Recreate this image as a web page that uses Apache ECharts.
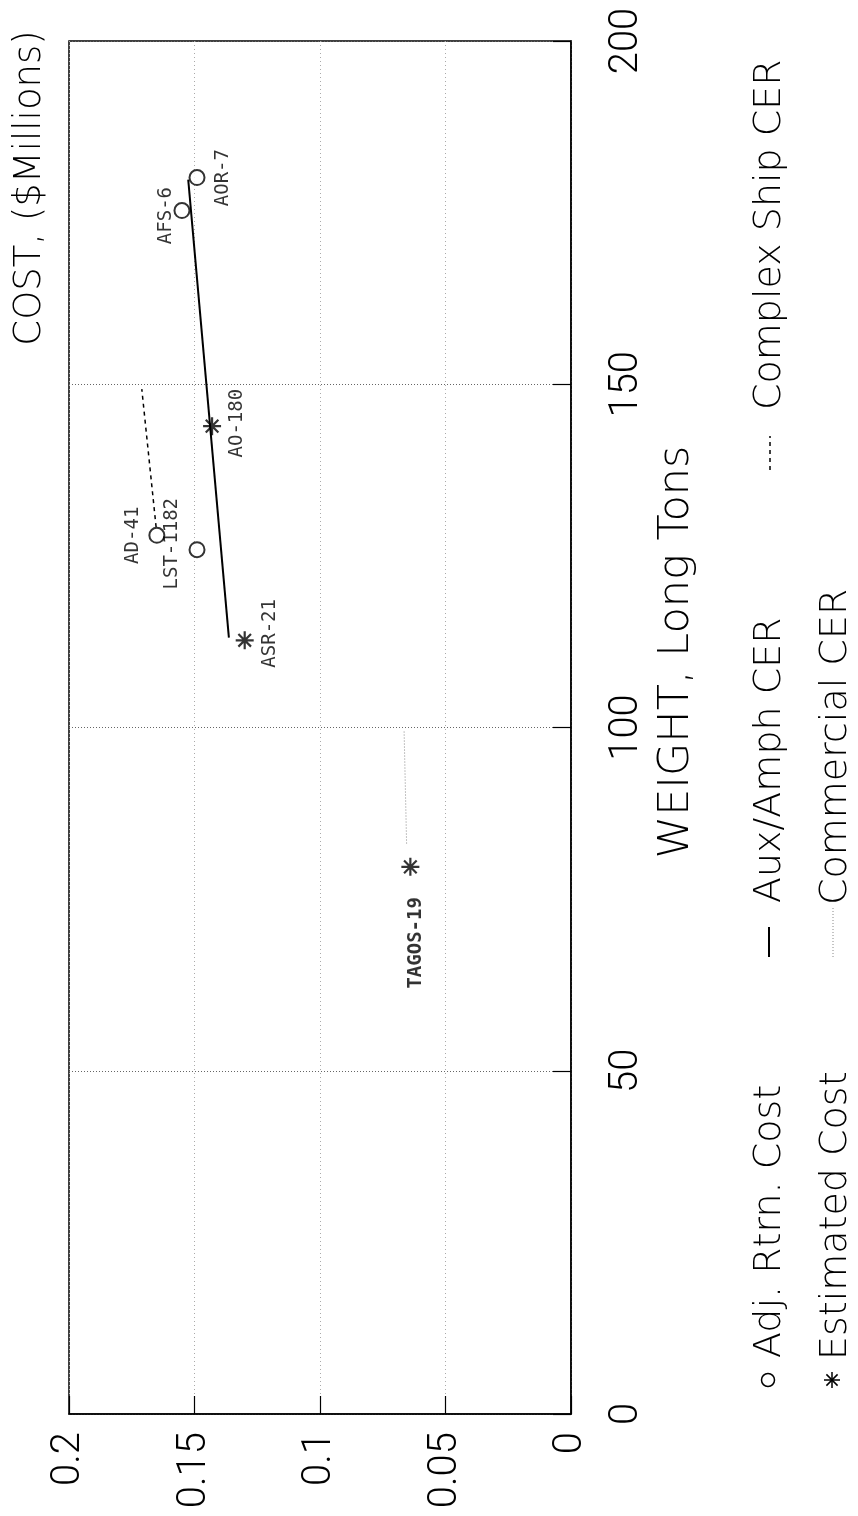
<!DOCTYPE html>
<html>
<head>
<meta charset="utf-8">
<script src="https://cdn.jsdelivr.net/npm/echarts@6/dist/echarts.min.js"></script>
<style>
  html, body { margin: 0; padding: 0; background: #fff; }
  #chart { width: 858px; height: 1516px; }
</style>
</head>
<body>
<div id="chart"></div>
<script>
// Ship cost vs. weight, drawn turned a quarter-turn: weight runs up the page,
// cost runs right-to-left along the bottom.

// Axis ticks
const costTicks = [0, 0.05, 0.1, 0.15, 0.2];
const weightTicks = [0, 50, 100, 150, 200];

// Adjusted return cost (open circles)
const adjNames = ['AOR-7', 'AFS-6', 'AD-41', 'LST-1182'];
const adjWeight = [180.1, 175.3, 128.0, 125.9];
const adjCost = [0.149, 0.155, 0.165, 0.149];

// Estimated cost (asterisks)
const estNames = ['AO-180', 'ASR-21', 'TAGOS-19'];
const estWeight = [143.9, 112.7, 79.7];
const estCost = [0.143, 0.130, 0.064];

// Cost estimating relationships (end points of each fitted line)
const auxAmphWeight = [113.1, 179.8];
const auxAmphCost = [0.1363, 0.1525];
const commercialWeight = [83.1, 99.6];
const commercialCost = [0.0655, 0.0665];
const complexWeight = [129.2, 149.3];
const complexCost = [0.1653, 0.1710];

// Label placement around each point, as screen shifts [right, down] in pixels
const labelShift = {
  'AOR-7': [26, 0],
  'AFS-6': [-16, 5],
  'AD-41': [-24, 0],
  'LST-1182': [-25, -6],
  'AO-180': [25, -3],
  'ASR-21': [25, -7],
  'TAGOS-19': [6, 76]
};

const ROT = Math.PI / 2;
const TICK_FONT = 'Roboto';
const TEXT_FONT = 'DejaVu Sans';

function pairs(xs, ys) { return xs.map((x, i) => [x, ys[i]]); }

// label offsets live in the label's own (turned) frame
function turnedOffset(s) { return [-s[1], s[0]]; }

function pointData(names, costs, weights) {
  return names.map((n, i) => ({
    name: n,
    value: [costs[i], weights[i]],
    label: {
      offset: turnedOffset(labelShift[n]),
      fontWeight: n === 'TAGOS-19' ? 'bold' : 'normal'
    }
  }));
}

const pointLabel = {
  show: true,
  position: 'inside',
  rotate: 90,
  align: 'center',
  verticalAlign: 'middle',
  formatter: p => p.name,
  fontFamily: 'DejaVu Sans Mono',
  fontSize: 19,
  color: '#000'
};

const ASTERISK = 'path://M10 0L10 20M0 10L20 10M3 3L17 17M3 17L17 3';

function legendText(x, y, text) {
  return {
    type: 'text', x: x, y: y, rotation: ROT,
    style: {
      text: text, fill: '#000', align: 'left', verticalAlign: 'middle',
      fontFamily: TEXT_FONT, fontWeight: 200, fontSize: 38
    }
  };
}
function legendLine(x, y1, y2, dash, color, width) {
  return {
    type: 'line',
    shape: { x1: x, y1: y1, x2: x, y2: y2 },
    style: { stroke: color, lineWidth: width, lineDash: dash }
  };
}
function asterisk(cx, cy, r) {
  const d = r * 0.7;
  const seg = (x1, y1, x2, y2) => ({
    type: 'line', shape: { x1: cx + x1, y1: cy + y1, x2: cx + x2, y2: cy + y2 },
    style: { stroke: '#000', lineWidth: 1.5 }
  });
  return [seg(0, -r, 0, r), seg(-r, 0, r, 0), seg(-d, -d, d, d), seg(-d, d, d, -d)];
}

const chart = echarts.init(document.getElementById('chart'), null, { renderer: 'canvas' });

const option = {
  backgroundColor: '#fff',
  animation: false,
  grid: {
    left: 69, top: 41, width: 502, height: 1373,
    show: true, borderColor: '#000', borderWidth: 1.5, backgroundColor: 'transparent'
  },
  xAxis: {
    type: 'value',
    position: 'bottom',
    inverse: true,
    min: costTicks[0],
    max: costTicks[costTicks.length - 1],
    interval: costTicks[1] - costTicks[0],
    axisLine: { show: true, lineStyle: { color: '#000', width: 1.5 } },
    axisTick: { show: true, inside: true, length: 18, lineStyle: { color: '#000', width: 1.2 } },
    splitLine: { show: true, lineStyle: { color: '#aaa', width: 1, type: [1, 3] } },
    axisLabel: {
      rotate: 90, margin: 18, color: '#000',
      fontFamily: TICK_FONT, fontWeight: 300, fontSize: 40,
      formatter: v => String(+v.toFixed(2))
    }
  },
  yAxis: {
    type: 'value',
    position: 'right',
    min: weightTicks[0],
    max: weightTicks[weightTicks.length - 1],
    interval: weightTicks[1] - weightTicks[0],
    axisLine: { show: true, lineStyle: { color: '#000', width: 1.5 } },
    axisTick: { show: true, inside: true, length: 18, lineStyle: { color: '#000', width: 1.2 } },
    splitLine: { show: true, lineStyle: { color: '#666', width: 1, type: [1, 2] } },
    axisLabel: {
      rotate: 90, margin: 36, color: '#000',
      fontFamily: TICK_FONT, fontWeight: 300, fontSize: 40
    }
  },
  series: [
    {
      name: 'Aux/Amph CER', type: 'line', symbol: 'none',
      data: pairs(auxAmphCost, auxAmphWeight),
      lineStyle: { color: '#000', width: 2 }, z: 3
    },
    {
      name: 'Commercial CER', type: 'line', symbol: 'none',
      data: pairs(commercialCost, commercialWeight),
      lineStyle: { color: '#888', width: 1, type: [1, 2] }, z: 3
    },
    {
      name: 'Complex Ship CER', type: 'line', symbol: 'none',
      data: pairs(complexCost, complexWeight),
      lineStyle: { color: '#000', width: 1.5, type: [4, 4] }, z: 3
    },
    {
      name: 'Adj. Rtrn. Cost', type: 'scatter',
      symbol: 'emptyCircle', symbolSize: 15,
      itemStyle: { color: '#000', borderWidth: 1.5 },
      label: pointLabel,
      data: pointData(adjNames, adjCost, adjWeight), z: 4
    },
    {
      name: 'Estimated Cost', type: 'scatter',
      symbol: ASTERISK, symbolSize: 18,
      itemStyle: { color: '#000', borderColor: '#000', borderWidth: 2.2 },
      label: pointLabel,
      data: pointData(estNames, estCost, estWeight), z: 4
    }
  ],
  graphic: [
    {
      type: 'text', x: 30, y: 188, rotation: ROT,
      style: {
        text: 'COST, ($Millions)', fill: '#000', align: 'center', verticalAlign: 'middle',
        fontFamily: TEXT_FONT, fontWeight: 200, fontSize: 37
      }
    },
    {
      type: 'text', x: 677, y: 652, rotation: ROT,
      style: {
        text: 'WEIGHT, Long Tons', fill: '#000', align: 'center', verticalAlign: 'middle',
        fontFamily: TEXT_FONT, fontWeight: 200, fontSize: 43
      }
    },
    // legend, first column
    { type: 'circle', shape: { cx: 768, cy: 1380, r: 6.5 }, style: { fill: '#fff', stroke: '#000', lineWidth: 1.5 } },
    legendText(770, 1358, 'Adj. Rtrn. Cost'),
    legendLine(769, 957, 927, null, '#000', 2),
    legendText(770, 903, 'Aux/Amph CER'),
    legendLine(770, 470, 436, [4, 4], '#000', 1.5),
    legendText(770, 410, 'Complex Ship CER'),
    // legend, second column
    ...asterisk(832, 1380, 8),
    legendText(836, 1360, 'Estimated Cost'),
    legendLine(833, 957, 907, [1, 2], '#888', 1),
    legendText(836, 905, 'Commercial CER')
  ]
};

chart.setOption(option);
</script>
</body>
</html>
